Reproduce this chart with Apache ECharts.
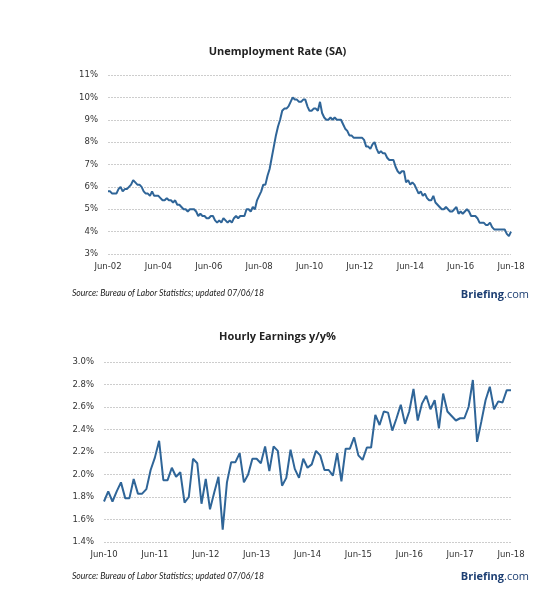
<!DOCTYPE html>
<html><head><meta charset="utf-8">
<script src="https://cdn.jsdelivr.net/npm/echarts@6/dist/echarts.min.js"></script>
<style>html,body{margin:0;padding:0;background:#fff}#c{width:555px;height:594px}</style>
</head><body><div id="c"></div>
<script>
// Unemployment rate (%), monthly Jun-02 .. Jun-18
const unempStart = [2002, 6];
const unemp2002 = [5.8,5.8,5.7,5.7,5.7,5.9,6.0];
const unemp2003 = [5.8,5.9,5.9,6.0,6.1,6.3,6.2,6.1,6.1,6.0,5.8,5.7];
const unemp2004 = [5.7,5.6,5.8,5.6,5.6,5.6,5.5,5.4,5.4,5.5,5.4,5.4];
const unemp2005 = [5.3,5.4,5.2,5.2,5.1,5.0,5.0,4.9,5.0,5.0,5.0,4.9];
const unemp2006 = [4.7,4.8,4.7,4.7,4.6,4.6,4.7,4.7,4.5,4.4,4.5,4.4];
const unemp2007 = [4.6,4.5,4.4,4.5,4.4,4.6,4.7,4.6,4.7,4.7,4.7,5.0];
const unemp2008 = [5.0,4.9,5.1,5.0,5.4,5.6,5.8,6.1,6.1,6.5,6.8,7.3];
const unemp2009 = [7.8,8.3,8.7,9.0,9.4,9.5,9.5,9.6,9.8,10.0,9.9,9.9];
const unemp2010 = [9.8,9.8,9.9,9.9,9.6,9.4,9.4,9.5,9.5,9.4,9.8,9.3];
const unemp2011 = [9.1,9.0,9.0,9.1,9.0,9.1,9.0,9.0,9.0,8.8,8.6,8.5];
const unemp2012 = [8.3,8.3,8.2,8.2,8.2,8.2,8.2,8.1,7.8,7.8,7.7,7.9];
const unemp2013 = [8.0,7.7,7.5,7.6,7.5,7.5,7.3,7.2,7.2,7.2,6.9,6.7];
const unemp2014 = [6.6,6.7,6.7,6.2,6.3,6.1,6.2,6.1,5.9,5.7,5.8,5.6];
const unemp2015 = [5.7,5.5,5.4,5.4,5.6,5.3,5.2,5.1,5.0,5.0,5.1,5.0];
const unemp2016 = [4.9,4.9,5.0,5.1,4.8,4.9,4.8,4.9,5.0,4.9,4.7,4.7];
const unemp2017 = [4.7,4.6,4.4,4.4,4.4,4.3,4.3,4.4,4.2,4.1,4.1,4.1];
const unemp2018 = [4.1,4.1,4.1,3.9,3.8,4.0];
const unempValues = [].concat(unemp2002,unemp2003,unemp2004,unemp2005,unemp2006,unemp2007,
  unemp2008,unemp2009,unemp2010,unemp2011,unemp2012,unemp2013,unemp2014,unemp2015,unemp2016,unemp2017,unemp2018);

// Hourly earnings y/y %, monthly Jun-10 .. Jun-18
const earnStart = [2010, 6];
const earnA = [1.76,1.85,1.76,1.85,1.93,1.79,1.79,1.96,1.83,1.83,1.87,2.04,2.15,2.30,1.95,1.95,2.06,1.98,2.02,1.75,1.80,2.14,2.10,1.74];
const earnB = [1.96,1.69,1.84,1.98,1.51,1.93,2.11,2.11,2.19,1.93,2.00,2.14,2.14,2.10,2.25,2.03,2.25,2.21,1.90,1.97,2.22,2.05,1.97,2.14];
const earnC = [2.06,2.09,2.21,2.17,2.04,2.04,1.99,2.19,1.94,2.23,2.23,2.33,2.17,2.13,2.24,2.24,2.53,2.44,2.56,2.55,2.39,2.50,2.62,2.45];
const earnD = [2.56,2.76,2.48,2.63,2.70,2.58,2.66,2.41,2.72,2.56,2.52,2.48,2.50,2.50,2.60,2.84,2.29,2.47,2.66,2.78,2.58,2.65,2.64,2.75,2.75];
const earnValues = [].concat(earnA, earnB, earnC, earnD);

const MON = ['Jan','Feb','Mar','Apr','May','Jun','Jul','Aug','Sep','Oct','Nov','Dec'];
function monthLabels(start, n){
  const out=[]; let y=start[0], m=start[1]-1;
  for(let i=0;i<n;i++){ out.push(MON[m]+'-'+String(y%100).padStart(2,'0')); m++; if(m>11){m=0;y++;} }
  return out;
}
const unempCats = monthLabels(unempStart, unempValues.length);
const earnCats = monthLabels(earnStart, earnValues.length);

const FONT = 'DejaVu Sans';
const LINE = '#2f6598';
const axisLbl = {color:'#333', fontSize:8.5, fontFamily:FONT};
const grid = {lineStyle:{color:'#cdcdcd', type:[2,1], width:1}};
const titleStyle = {fontFamily:'Open Sans', fontSize:11, fontWeight:'bold', color:'#222'};
const logoRich = {a:{fontFamily:'Open Sans', fontWeight:'bold', fontSize:11, fill:'#1d3f73'}, b:{fontFamily:'Open Sans', fontSize:11, fill:'#1d3f73'}};

const chart = echarts.init(document.getElementById('c'));
chart.setOption({
  animation:false,
  backgroundColor:'#fff',
  title:[
    {text:'Unemployment Rate (SA)', left:'center', top:41, textStyle:titleStyle},
    {text:'Hourly Earnings y/y%', left:'center', top:326, textStyle:titleStyle}
  ],
  grid:[
    {left:108, right:44, top:75, bottom:340},
    {left:104, right:44, top:362, bottom:52}
  ],
  xAxis:[
    {type:'category', gridIndex:0, data:unempCats, boundaryGap:false,
     axisLine:{show:false}, axisTick:{show:false},
     axisLabel:Object.assign({interval:23, margin:8}, axisLbl)},
    {type:'category', gridIndex:1, data:earnCats, boundaryGap:false,
     axisLine:{show:false}, axisTick:{show:false},
     axisLabel:Object.assign({interval:11, margin:8}, axisLbl)}
  ],
  yAxis:[
    {type:'value', gridIndex:0, min:3, max:11, interval:1,
     axisLine:{show:false}, axisTick:{show:false}, splitLine:grid,
     axisLabel:Object.assign({formatter:'{value}%', margin:10}, axisLbl)},
    {type:'value', gridIndex:1, min:1.4, max:3.0, interval:0.2,
     axisLine:{show:false}, axisTick:{show:false}, splitLine:grid,
     axisLabel:Object.assign({formatter:v=>v.toFixed(1)+'%', margin:10}, axisLbl)}
  ],
  series:[
    {type:'line', xAxisIndex:0, yAxisIndex:0, data:unempValues, showSymbol:false,
     lineStyle:{color:LINE, width:2}},
    {type:'line', xAxisIndex:1, yAxisIndex:1, data:earnValues, showSymbol:false,
     lineStyle:{color:LINE, width:2}}
  ],
  graphic:[
    {type:'text', left:72, top:289, style:{text:'Source: Bureau of Labor Statistics; updated 07/06/18', fontFamily:'Lato', fontStyle:'italic', fontSize:8.6, fill:'#222'}},
    {type:'text', left:72, top:572, style:{text:'Source: Bureau of Labor Statistics; updated 07/06/18', fontFamily:'Lato', fontStyle:'italic', fontSize:8.6, fill:'#222'}},
    {type:'text', right:26, top:289, style:{rich:logoRich, text:'{a|Briefing}{b|.com}'}},
    {type:'text', right:26, top:571, style:{rich:logoRich, text:'{a|Briefing}{b|.com}'}}
  ]
});
</script></body></html>
